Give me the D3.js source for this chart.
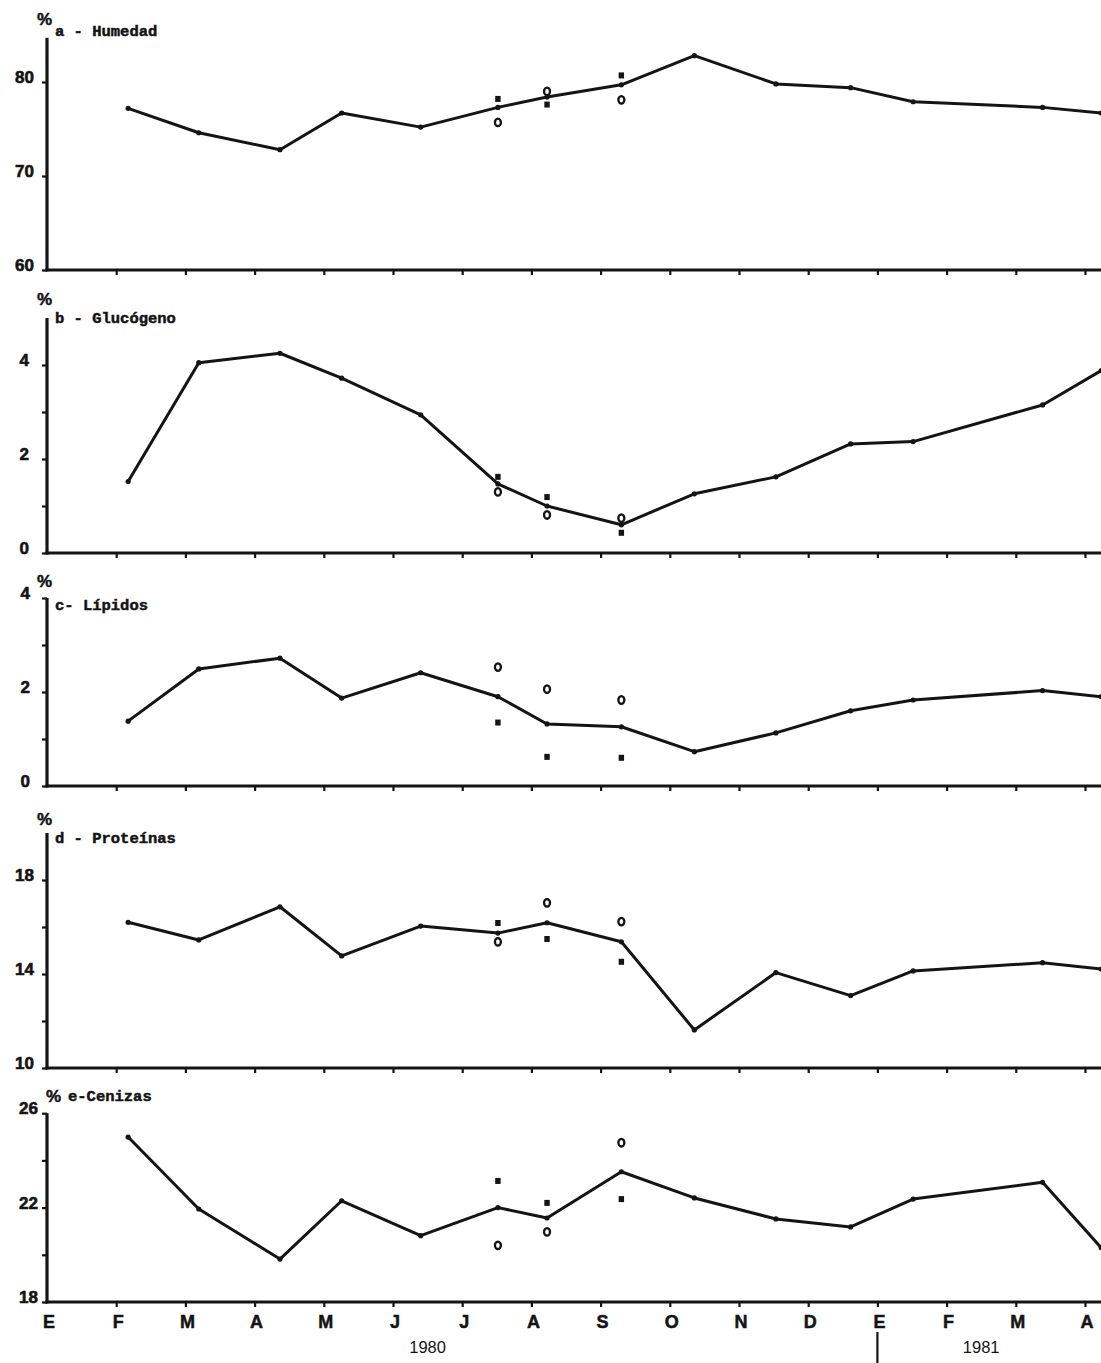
<!DOCTYPE html>
<html>
<head>
<meta charset="utf-8">
<script src="https://cdn.jsdelivr.net/npm/d3@7"></script>
<style>
  body{margin:0;background:#fff;}
  .tit{font-family:"Liberation Mono","DejaVu Sans Mono",monospace;font-weight:bold;}
  .num{font-family:"Liberation Sans",Arial,sans-serif;font-weight:bold;}
</style>
</head>
<body>
<div id="chart"></div>
<script>
// sampling dates (main series)
const fechas = ["1980-02-06","1980-03-07","1980-04-12","1980-05-09","1980-06-13","1980-07-17",
                "1980-08-08","1980-09-10","1980-10-12","1980-11-17","1980-12-20","1981-01-17",
                "1981-03-13","1981-04-08"];
// dates of the extra samples (o and x marks)
const fechasExtra = ["1980-07-17","1980-08-08","1980-09-10"];

const meses = ["E","F","M","A","M","J","J","A","S","O","N","D","E","F","M","A"];
const anos = ["1980","1981"];

const humedad   = [77.2, 74.6, 72.8, 76.7, 75.2, 77.3, 78.4, 79.7, 82.8, 79.8, 79.4, 77.9, 77.3, 76.7];
const humedadO  = [75.7, 79.0, 78.1];
const humedadX  = [78.2, 77.6, 80.7];

const glucogeno  = [1.52, 4.05, 4.25, 3.72, 2.94, 1.47, 1.00, 0.60, 1.26, 1.62, 2.32, 2.37, 3.15, 3.88];
const glucogenoO = [1.30, 0.81, 0.74];
const glucogenoX = [1.62, 1.19, 0.43];

const lipidos  = [1.38, 2.49, 2.72, 1.87, 2.41, 1.90, 1.32, 1.26, 0.73, 1.13, 1.60, 1.83, 2.03, 1.90];
const lipidosO = [2.53, 2.06, 1.83];
const lipidosX = [1.35, 0.62, 0.60];

const proteinas  = [16.2, 15.45, 16.86, 14.77, 16.04, 15.74, 16.18, 15.37, 11.62, 14.06, 13.08, 14.13, 14.48, 14.21];
const proteinasO = [15.37, 17.03, 16.23];
const proteinasX = [16.17, 15.49, 14.52];

const cenizas  = [24.99, 21.94, 19.82, 22.29, 20.81, 22.0, 21.56, 23.52, 22.41, 21.52, 21.18, 22.36, 23.07, 20.3];
const cenizasO = [20.4, 20.97, 24.75];
const cenizasX = [23.13, 22.2, 22.36];

(function(){
    let width=1101, height=1363;
    let parse=d3.timeParse("%Y-%m-%d");
    //date -> month index counted from Jan 1980
    function toMes(s){
        let d=parse(s);
        let dias=new Date(d.getFullYear(),d.getMonth()+1,0).getDate();
        return (d.getFullYear()-1980)*12+d.getMonth()+(d.getDate()-1)/dias;
    }
    let xm=fechas.map(toMes);
    let xe=fechasExtra.map(toMes);

    let x=d3.scaleLinear().domain([0,meses.length-1]).range([47,1085]);

    //panel layout
    let paneles=[
        {tit:"a - Humedad",   v:humedad,   o:humedadO,   q:humedadX,   lo:60, hi:84.7, base:270,  ppu:9.4,
            major:[60,70,80], minor:[], labX:34, pctY:-13, titX:55, titY:-2},
        {tit:"b - Glucógeno", v:glucogeno, o:glucogenoO, q:glucogenoX, lo:0,  hi:5,    base:553,  ppu:47,
            major:[0,2,4], minor:[1,3], labX:29, pctY:-13, titX:55, titY:5},
        {tit:"c- Lípidos",    v:lipidos,   o:lipidosO,   q:lipidosX,   lo:0,  hi:4,    base:786,  ppu:47,
            major:[0,2,4], minor:[1,3], labX:30, pctY:-11, titX:55, titY:12},
        {tit:"d - Proteínas", v:proteinas, o:proteinasO, q:proteinasX, lo:10, hi:20,   base:1068, ppu:23.5,
            major:[10,14,18], minor:[12,16], labX:34, pctY:-8, titX:55, titY:10},
        {tit:"e-Cenizas",     v:cenizas,   o:cenizasO,   q:cenizasX,   lo:18, hi:26,   base:1302, ppu:23.6,
            major:[18,22,26], minor:[20,24], labX:38, pctY:-11, titX:68, titY:-12, pctX:46}
    ];

    let svg=d3.select("#chart").append("svg")
        .attr("width",width).attr("height",height)
        .style("display","block");
    svg.append("rect").attr("width",width).attr("height",height).attr("fill","#fff");

    let ink="#141414";

    paneles.forEach(function(p,idx){
        let y=d3.scaleLinear().domain([p.lo,p.hi]).range([p.base,p.base-(p.hi-p.lo)*p.ppu]);
        let g=svg.append("g");

        //y axis: major + minor ticks
        let ya=g.append("g").attr("transform","translate("+x(0)+",0)")
            .call(d3.axisLeft(y).tickValues(p.major.concat(p.minor)).tickSize(5).tickSizeOuter(0).tickFormat(""));
        ya.select(".domain").remove();
        ya.selectAll("line").attr("stroke",ink).attr("stroke-width",2.2);
        g.append("line")
            .attr("x1",x(0)).attr("x2",x(0))
            .attr("y1",y(p.lo)+1.5).attr("y2",y(p.hi))
            .attr("stroke",ink).attr("stroke-width",3.2);
        g.selectAll("text.lab").data(p.major).enter().append("text")
            .attr("class","num lab")
            .attr("x",p.labX).attr("y",function(d){return y(d)+1})
            .attr("text-anchor","end")
            .attr("font-size",17).attr("fill",ink)
            .attr("stroke",ink).attr("stroke-width",0.6)
            .text(function(d){return d});

        //x axis
        let xa=g.append("g").attr("transform","translate(0,"+p.base+")")
            .call(d3.axisBottom(x).tickValues(d3.range(1,meses.length)).tickSize(5).tickSizeOuter(0).tickFormat(""));
        xa.select(".domain").remove();
        xa.selectAll("line").attr("stroke",ink).attr("stroke-width",2.2);
        g.append("line")
            .attr("x1",x(0)-1.6).attr("x2",width)
            .attr("y1",p.base).attr("y2",p.base)
            .attr("stroke",ink).attr("stroke-width",3.2);

        //titles
        g.append("text").attr("class","num")
            .attr("x",p.pctX||37).attr("y",y(p.hi)+p.pctY)
            .attr("font-size",17).attr("fill",ink)
            .attr("stroke",ink).attr("stroke-width",0.5).text("%");
        g.append("text").attr("class","tit")
            .attr("x",p.titX).attr("y",y(p.hi)+p.titY)
            .attr("font-size",15.5).attr("fill",ink)
            .attr("stroke",ink).attr("stroke-width",0.5).text(p.tit);

        //main series
        let pts=p.v.map(function(v,i){return [xm[i],v]});
        g.append("path").datum(pts)
            .attr("fill","none").attr("stroke",ink)
            .attr("stroke-width",3).attr("stroke-linejoin","round")
            .attr("d",d3.line().x(function(d){return x(d[0])}).y(function(d){return y(d[1])}));
        g.selectAll("circle.pt").data(pts).enter().append("circle")
            .attr("class","pt")
            .attr("cx",function(d){return x(d[0])}).attr("cy",function(d){return y(d[1])})
            .attr("r",2.6).attr("fill",ink);

        //extra samples: o
        g.selectAll("ellipse.o").data(p.o).enter().append("ellipse")
            .attr("class","o")
            .attr("cx",function(d,i){return x(xe[i])}).attr("cy",function(d){return y(d)})
            .attr("rx",3).attr("ry",3.8)
            .attr("fill","none").attr("stroke",ink).attr("stroke-width",2.3);
        //extra samples: filled squares
        g.selectAll("rect.q").data(p.q).enter().append("rect")
            .attr("class","q")
            .attr("x",function(d,i){return x(xe[i])-2.7}).attr("y",function(d){return y(d)-3})
            .attr("width",5.4).attr("height",6).attr("fill",ink);

        //month letters + years under the last panel
        if (idx===paneles.length-1){
            g.selectAll("text.mes").data(meses).enter().append("text")
                .attr("class","num mes")
                .attr("x",function(d,i){return x(i)+2}).attr("y",p.base+26)
                .attr("text-anchor","middle").attr("font-size",18).attr("fill",ink)
                .attr("stroke",ink).attr("stroke-width",0.5)
                .text(function(d){return d});
            let posAno=[(0+11)/2,(12+meses.length-1)/2];
            g.selectAll("text.ano").data(anos).enter().append("text")
                .attr("x",function(d,i){return x(posAno[i])}).attr("y",p.base+51)
                .attr("text-anchor","middle")
                .attr("font-family","'Liberation Sans',Arial,sans-serif")
                .attr("font-size",16.5).attr("fill",ink)
                .text(function(d){return d});
            g.append("line")
                .attr("x1",x(12)).attr("x2",x(12))
                .attr("y1",p.base+30).attr("y2",height)
                .attr("stroke",ink).attr("stroke-width",2.2);
        }
    });
})();
</script>
</body>
</html>
